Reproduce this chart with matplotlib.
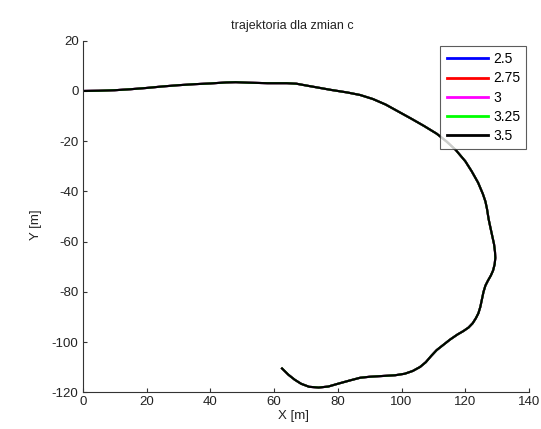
import numpy as np
import matplotlib.pyplot as plt

plt.rcParams['font.family'] = ['Liberation Sans', 'DejaVu Sans']
plt.rcParams['axes.unicode_minus'] = False

# trajectory (all five runs overlap almost exactly)
x_path = [0, 5, 10, 15, 20, 25, 30, 35, 40, 45, 48, 52, 58, 64, 67, 70, 74,
          78, 83, 87, 91, 95, 99, 103, 107, 111, 114, 117, 120, 122, 124,
          125.5, 126.3, 126.8, 127.3, 127.8, 128.4, 129, 129.3, 129.4, 129.2,
          128.7, 128, 127.1, 126.3, 125.7, 125.2, 124.7, 124.1, 123.3, 122.3,
          121, 119.4, 117.5, 115.2, 113, 111, 109.3, 107.6, 105.8, 103.5, 101,
          98, 94, 90, 87, 84, 80, 77, 74, 71, 68.5, 66.5, 64.5, 62.5]
y_path = [0, 0.1, 0.3, 0.7, 1.2, 1.8, 2.3, 2.7, 3.0, 3.4, 3.5, 3.3, 3.1, 3.1,
          2.9, 2.2, 1.3, 0.4, -0.6, -1.6, -3.2, -5.4, -8.2, -11, -13.9, -17,
          -20, -23.5, -28, -32, -36.5, -41, -44, -47, -51, -54, -57.5, -61,
          -64, -66.5, -69, -71.5, -73.5, -75.5, -77.5, -80, -83, -86, -88.5,
          -90.5, -92.5, -94.2, -95.6, -97, -99, -101.2, -103.2, -105.5, -108,
          -109.9, -111.5, -112.6, -113.2, -113.5, -113.8, -114.2, -115.2,
          -116.6, -117.7, -118.1, -117.8, -116.6, -115, -113, -110.5]

c_values = ['2.5', '2.75', '3', '3.25', '3.5']
colors = ['#0000ff', '#ff0000', '#ff00ff', '#00ff00', '#000000']

xticks = [0, 20, 40, 60, 80, 100, 120, 140]
yticks = [20, 0, -20, -40, -60, -80, -100, -120]

fig = plt.figure(figsize=(5.41, 4.29), dpi=100)
ax = fig.add_axes([0.153, 0.0855, 0.825, 0.8195])

for c, col in zip(c_values, colors):
    ax.plot(x_path, y_path, color=col, linewidth=1.5, label=c)

ax.set_xlim(0, 140)
ax.set_ylim(-120, 20)
ax.set_xticks(xticks)
ax.set_yticks(yticks)

for side in ['top', 'right']:
    ax.spines[side].set_visible(False)
for side in ['left', 'bottom']:
    ax.spines[side].set_color('#333333')
    ax.spines[side].set_linewidth(0.8)
ax.tick_params(direction='in', length=3, width=0.8, colors='#333333',
               labelsize=9.5, labelcolor='#222222', pad=3)

ax.text(0.470, 1.043, 'trajektoria dla zmian c', transform=ax.transAxes,
        ha='center', va='center', fontsize=9, color='#222222')
ax.text(0.473, -0.066, 'X [m]', transform=ax.transAxes,
        ha='center', va='center', fontsize=9.5, color='#222222')
ax.text(-0.105, 0.476, 'Y [m]', transform=ax.transAxes, rotation=90,
        ha='center', va='center', fontsize=9.5, color='#222222')

leg = ax.legend(loc='upper right', bbox_to_anchor=(0.994, 0.985),
                borderaxespad=0, fontsize=10, fancybox=False,
                handlelength=3.0, handletextpad=0.35, labelspacing=0.37,
                borderpad=0.45)
leg.get_frame().set_edgecolor('#333333')
leg.get_frame().set_linewidth(0.8)
for line in leg.get_lines():
    line.set_linewidth(2)

fig.savefig('out.png', dpi=100)
